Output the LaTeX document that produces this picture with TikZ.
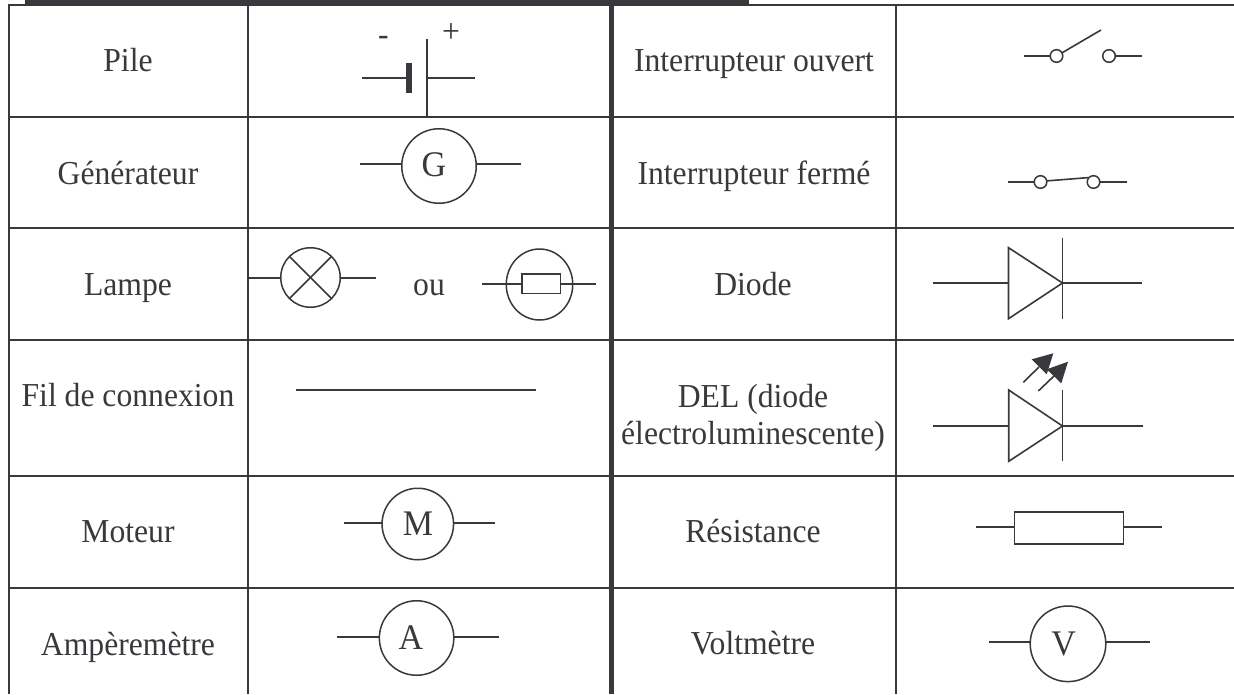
\documentclass[tikz,border=0pt]{standalone}
\usepackage{fontspec}
\usetikzlibrary{shapes.geometric}
\setmainfont[FakeStretch=0.945]{Liberation Serif}
\definecolor{ink}{HTML}{38383D}
\tikzset{
  grid line/.style={draw=ink,line width=1.8pt},
  wire/.style={draw=ink,line width=1.6pt},
  label/.style={anchor=base,inner sep=0pt,outer sep=0pt,text=ink,font=\fontsize{33.5}{38}\selectfont},
  letter/.style={anchor=base,inner sep=0pt,outer sep=0pt,text=ink,font=\fontsize{36}{40}\selectfont},
  dial/.style={circle,draw=ink,line width=1.5pt,inner sep=0pt,outer sep=0pt},
  contact/.style={circle,draw=ink,line width=1.5pt,inner sep=0pt,outer sep=0pt,minimum size=12.6pt},
  box/.style={rectangle,draw=ink,line width=1.5pt,inner sep=0pt,outer sep=0pt},
  head/.style={fill=ink,draw=none},
}
\begin{document}
\begin{tikzpicture}[x=1pt,y=-1pt]
\useasboundingbox (0,0) rectangle (1234,694);
% table frame
\fill[ink] (25,0) rectangle (749,6);
\draw[grid line] (8,5) -- (1234,5);
\draw[grid line] (9,5) -- (9,694);
\draw[grid line] (248,5) -- (248,694);
\draw[grid line] (896,5) -- (896,694);
\foreach \yy in {117,228,340,476,588} \draw[grid line] (9,\yy) -- (1234,\yy);
\draw[draw=ink,line width=5pt] (611.5,0) -- (611.5,694);
% labels
\node[label] (lPile) at (128,71.7) {Pile};
\node[label] (lGen) at (128,184) {Générateur};
\node[label] (lLampe) at (128,295) {Lampe};
\node[label] (lFil) at (128,406.7) {Fil de connexion};
\node[label] (lMot) at (128,542.7) {Moteur};
\node[label] (lAmp) at (128,655) {Ampèremètre};
\node[label] (rOuv) at (754,71.7) {Interrupteur ouvert};
\node[label] (rFer) at (754,184) {Interrupteur fermé};
\node[label] (rDio) at (753,295) {Diode};
\node[label] (rDel) at (753,407.7) {DEL (diode};
\node[label] (rDel2) at (753,444.3) {électroluminescente)};
\node[label] (rRes) at (753,542) {Résistance};
\node[label] (rVol) at (753,654.3) {Voltmètre};
% pile
\coordinate (pA) at (362,78);
\coordinate (pB) at (474.5,78);
\coordinate (pT) at (427,39);
\coordinate (pU) at (427,117);
\coordinate (pC) at (428,78);
\node[fill=ink,inner sep=0pt,minimum width=5.5pt,minimum height=30pt] (pBar) at (409,78) {};
\draw[wire] (pA) -- (pBar.west);
\draw[wire] (pT) -- (pU);
\draw[wire] (pC) -- (pB);
\node[label] (pMinus) at (383.5,45.6) {-};
\node[label] (pPlus) at (451,42.5) {+};
% generator
\node[dial,minimum size=74.5pt] (g) at (439,166) {};
\node[letter] (gL) at (434,176.7) {G};
\coordinate (gA) at (360,164);
\coordinate (gB) at (521,164);
\draw[wire] (gA) -- (g.west |- gA);
\draw[wire] (g.east |- gB) -- (gB);
% lamp 1
\node[dial,minimum size=59.5pt] (la) at (310.5,277.5) {};
\coordinate (laA) at (248,278);
\coordinate (laB) at (375.5,278);
\draw[wire] (laA) -- (la.west |- laA);
\draw[wire] (la.east |- laB) -- (laB);
\draw[wire] (la.45) -- (la.225);
\draw[wire] (la.135) -- (la.315);
\node[label] (ou) at (429,295) {ou};
% lamp 2
\node[ellipse,draw=ink,line width=1.5pt,inner sep=0pt,outer sep=0pt,minimum width=66.5pt,minimum height=71pt] (lb) at (539.5,284.5) {};
\node[box,minimum width=38.5pt,minimum height=19.5pt] (lbR) at (541.2,283.7) {};
\coordinate (lbA) at (482,284);
\coordinate (lbB) at (596,284);
\draw[wire] (lbA) -- (lbR.west |- lbA);
\draw[wire] (lbR.east |- lbB) -- (lbB);
% wire
\coordinate (fA) at (295.6,390);
\coordinate (fB) at (536.4,390);
\draw[wire] (fA) -- (fB);
% motor
\node[dial,minimum size=71.5pt] (m) at (417.8,524) {};
\node[letter] (mL) at (418,535.7) {M};
\coordinate (mA) at (344,523);
\coordinate (mB) at (494.5,523);
\draw[wire] (mA) -- (m.west |- mA);
\draw[wire] (m.east |- mB) -- (mB);
% ammeter
\node[dial,minimum size=74.5pt] (am) at (416.6,638) {};
\node[letter] (aL) at (411,649) {A};
\coordinate (aA) at (337,637);
\coordinate (aB) at (499,637);
\draw[wire] (aA) -- (am.west |- aA);
\draw[wire] (am.east |- aB) -- (aB);
% open switch
\node[contact] (o1) at (1056.5,56) {};
\node[contact] (o2) at (1109,56) {};
\coordinate (oA) at (1024,56);
\coordinate (oB) at (1142,56);
\coordinate (oT) at (1101,30);
\draw[wire] (oA) -- (o1);
\draw[wire] (o2) -- (oB);
\draw[wire] (o1.30) -- (oT);
% closed switch
\node[contact] (c1) at (1040.5,182) {};
\node[contact] (c2) at (1093.5,182) {};
\coordinate (cA) at (1008,182);
\coordinate (cB) at (1126.5,182);
\draw[wire] (cA) -- (c1);
\draw[wire] (c2) -- (cB);
\draw[wire] (c1.10) -- (c2.135);
% diode
\coordinate (dA) at (933,283);
\coordinate (dB) at (1142,283);
\coordinate (d1) at (1008.5,247.7);
\coordinate (d2) at (1008.5,318.7);
\coordinate (d3) at (1062.5,283);
\coordinate (dT) at (1062.5,237.7);
\coordinate (dU) at (1062.5,318.7);
\draw[wire,line join=miter] (d1) -- (d2) -- (d3) -- cycle;
\draw[wire] (dA) -- (d1 |- dA);
\draw[wire] (d3) -- (dB);
\draw[wire] (dT) -- (dU);
% LED
\coordinate (eA) at (933,426);
\coordinate (eB) at (1142.7,426);
\coordinate (e1) at (1008.7,390);
\coordinate (e2) at (1008.7,461.3);
\coordinate (e3) at (1062.5,426);
\coordinate (eT) at (1062.5,390);
\coordinate (eU) at (1062.5,461.3);
\draw[wire,line join=miter] (e1) -- (e2) -- (e3) -- cycle;
\draw[wire] (eA) -- (e1 |- eA);
\draw[wire] (e3) -- (eB);
\draw[wire] (eT) -- (eU);
\coordinate (r1a) at (1023.3,382.3);
\coordinate (r1b) at (1039,367);
\coordinate (r2a) at (1038.3,391);
\coordinate (r2b) at (1054,376);
\draw[wire] (r1a) -- (r1b);
\draw[wire] (r2a) -- (r2b);
\fill[head] (1053.3,353.3) -- (1031.7,359.3) -- (1046.7,374.3) -- cycle;
\fill[head] (1068,361.7) -- (1046.7,369.3) -- (1061.3,383.3) -- cycle;
% resistor
\node[box,minimum width=109.4pt,minimum height=32pt] (res) at (1069,528) {};
\coordinate (rA) at (976,527);
\coordinate (rB) at (1162.3,527);
\draw[wire] (rA) -- (res.west |- rA);
\draw[wire] (res.east |- rB) -- (rB);
% voltmeter
\node[dial,minimum size=75.6pt] (v) at (1068,643.8) {};
\node[letter] (vL) at (1063.6,655) {V};
\coordinate (vA) at (988.8,642);
\coordinate (vB) at (1150.4,642);
\draw[wire] (vA) -- (v.west |- vA);
\draw[wire] (v.east |- vB) -- (vB);
\end{tikzpicture}
\end{document}
